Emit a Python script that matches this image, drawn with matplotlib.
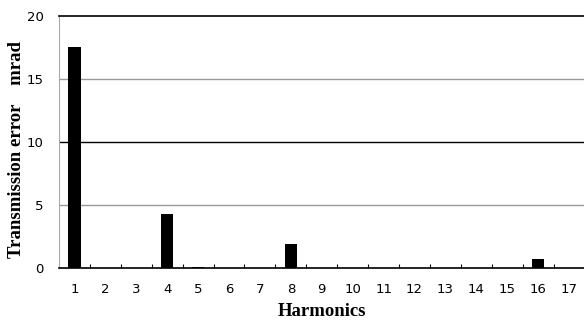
import matplotlib
matplotlib.use("Agg")
import matplotlib.pyplot as plt
import numpy as np

harmonics = list(range(1, 18))
error_mrad = [17.5, 0, 0, 4.3, 0.1, 0, 0, 1.9, 0, 0, 0, 0, 0, 0, 0, 0.75, 0]

fig = plt.figure(figsize=(5.84, 3.2), dpi=100)
ax = fig.add_axes([0.101, 0.1625, 0.9, 0.7875])

x = np.arange(len(harmonics))
ax.bar(x, error_mrad, width=0.4, color="black", zorder=3)

ax.set_xlim(-0.5, len(harmonics) - 0.5)
ax.set_ylim(0, 20)
ax.set_yticks([0, 5, 10, 15, 20])
ax.set_xticks(x)
ax.set_xticklabels([str(h) for h in harmonics])
ax.set_xticks(np.arange(0.5, len(harmonics) - 0.5), minor=True)

# horizontal grid lines, the middle one darker
for v, c in [(5, "#999999"), (10, "black"), (15, "#999999")]:
    ax.axhline(v, color=c, linewidth=1.0, zorder=1)

ax.tick_params(axis="x", which="major", length=0, pad=11, labelsize=9.5)
ax.tick_params(axis="y", length=0, pad=11, labelsize=9.5)
ax.tick_params(axis="x", which="minor", direction="in", length=3, width=0.8)
for lab in ax.get_xticklabels() + ax.get_yticklabels():
    lab.set_family("Liberation Sans Narrow")

ax.spines["left"].set_color("#aaaaaa")
ax.spines["top"].set_linewidth(1.2)
ax.spines["bottom"].set_linewidth(1.2)
ax.spines["right"].set_visible(False)

ax.set_xlabel("Harmonics", family="Liberation Serif", fontweight="bold",
              fontsize=13.5, labelpad=5)
ax.set_ylabel("Transmission error    mrad", family="Liberation Serif",
              fontweight="bold", fontsize=13.5)
ax.yaxis.set_label_coords(-0.08, 0.47)
ax.yaxis.label.set_va("center")

fig.savefig("out.png", dpi=100)
